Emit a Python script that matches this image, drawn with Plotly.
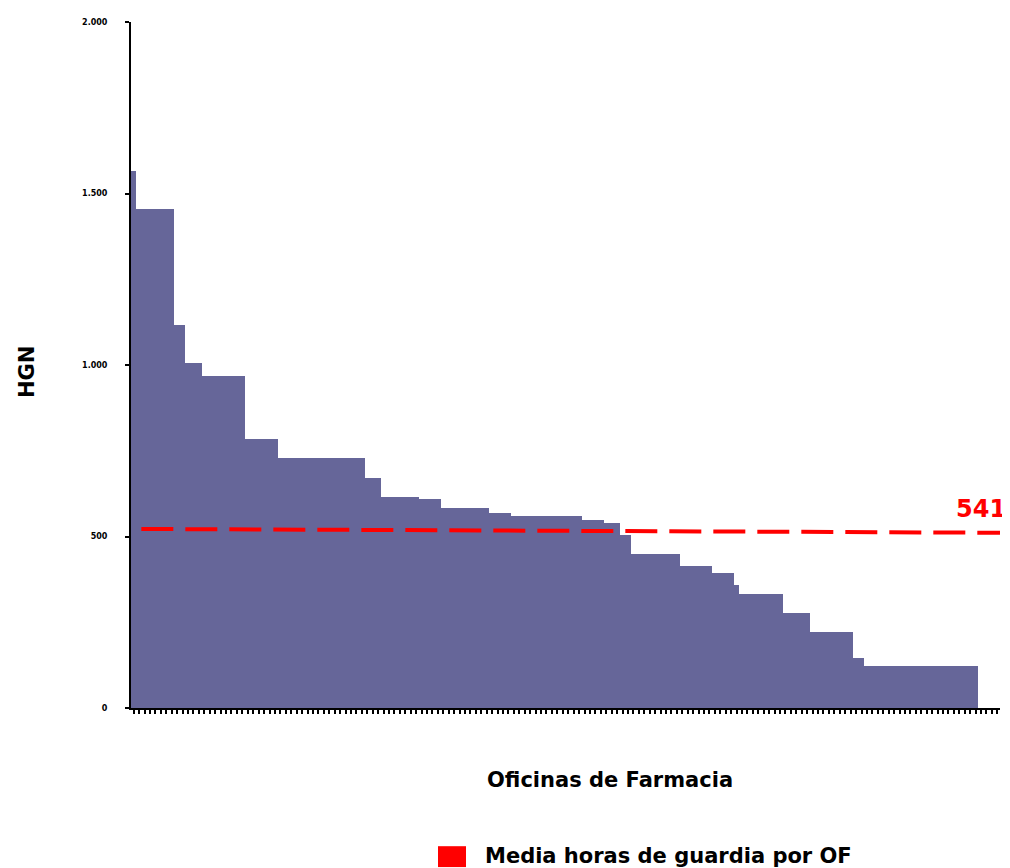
import plotly.graph_objects as go

# Step values (HGN) and how many pharmacies share each value
step_values = [1565, 1455, 1116, 1006, 968, 783, 728, 672, 614, 609, 583, 568, 559,
               548, 539, 504, 449, 414, 394, 359, 333, 278, 223, 145, 122]
step_counts = [1, 7, 2, 3, 8, 6, 16, 3, 7, 4, 9, 4, 13,
               4, 3, 2, 9, 6, 4, 1, 8, 5, 8, 2, 21]
n_categories = 160

hgn = []
for v, c in zip(step_values, step_counts):
    hgn.extend([v] * c)
oficinas = list(range(1, len(hgn) + 1))

media_x = [2.4, 160.5]
media_y = [522, 511]
media_label = "541"
legend_label = "Media horas de guardia por OF"

# page body has an 8px margin; work in screen pixels with offset
OFF = 8
L, T, PW, PH = 131 - OFF, 18 - OFF, 869, 690


def px(x):
    return (x - 131) / PW


def py(y):
    return (708 - y) / PH


fig = go.Figure()
fig.add_trace(go.Bar(x=oficinas, y=hgn, width=1.0,
                     marker=dict(color="#666699", line=dict(width=0)),
                     showlegend=False, hoverinfo="y"))
fig.add_trace(go.Scatter(x=media_x, y=media_y, mode="lines",
                         line=dict(color="#ff0000", width=4, dash="32px,12px"),
                         showlegend=False))

fig.update_layout(
    width=1010 - OFF, height=868 - OFF,
    margin=dict(l=L, r=1010 - OFF - L - PW, t=T, b=868 - OFF - T - PH),
    plot_bgcolor="white", paper_bgcolor="white",
    bargap=0,
    font=dict(family="DejaVu Sans", color="black"),
    xaxis=dict(range=[0.5, n_categories + 0.5], tickmode="linear", tick0=1, dtick=1,
               ticks="outside", ticklen=4, tickwidth=2, tickcolor="black",
               showticklabels=False, showgrid=False, zeroline=False,
               showline=True, linecolor="black", linewidth=2),
    yaxis=dict(range=[0, 2000], tickvals=[0, 500, 1000, 1500, 2000],
               ticktext=["<b>0</b>", "<b>500</b>", "<b>1.000</b>", "<b>1.500</b>", "<b>2.000</b>"],
               tickfont=dict(size=8, family="DejaVu Sans", color="black"),
               ticklabelstandoff=16,
               ticks="outside", ticklen=4, tickwidth=2, tickcolor="black",
               showgrid=False, zeroline=False,
               showline=True, linecolor="black", linewidth=2),
)

fig.add_annotation(text="<b>HGN</b>", xref="paper", yref="paper",
                   x=px(27), xanchor="center", y=py(370), yanchor="middle", textangle=-90,
                   showarrow=False, font=dict(size=21, family="DejaVu Sans"))
fig.add_annotation(text="<b>Oficinas de Farmacia</b>", xref="paper", yref="paper",
                   x=px(610), xanchor="center", y=py(780), yanchor="middle",
                   showarrow=False, font=dict(size=21, family="DejaVu Sans"))
fig.add_annotation(text="<b>" + media_label + "</b>", xref="paper", yref="y",
                   x=px(1008), xanchor="right", y=580, yanchor="middle",
                   showarrow=False, font=dict(size=24, color="#ff0000", family="DejaVu Sans"))

# legend swatch + text
fig.add_shape(type="rect", xref="paper", yref="paper",
              x0=px(438), x1=px(466), y0=py(868), y1=py(847),
              fillcolor="#ff0000", line=dict(width=0))
fig.add_annotation(text="<b>" + legend_label + "</b>", xref="paper", yref="paper",
                   x=px(483), xanchor="left", y=py(857), yanchor="middle",
                   showarrow=False, font=dict(size=21, family="DejaVu Sans"))

fig.write_html("out.html")
